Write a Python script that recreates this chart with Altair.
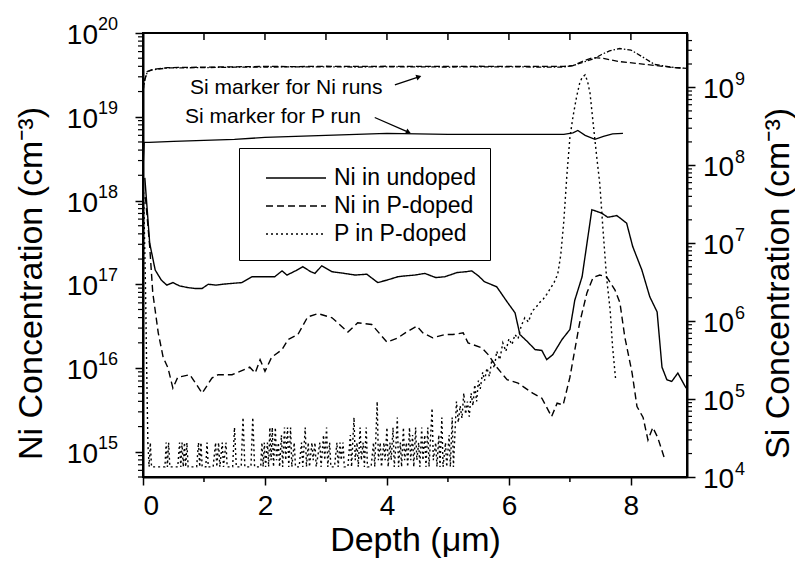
import altair as alt
import pandas as pd

FONT = "Liberation Sans"
W, H = 544, 444

# ---------------- data (depth in um, concentration as log10) -------------
series_names = ["Ni in undoped", "Ni in P-doped", "P in P-doped"]

ni_undoped_depth = [0.03, 0.11, 0.2, 0.3, 0.39, 0.49, 0.6, 0.74, 0.85, 0.97, 1.07, 1.2, 1.3, 1.45,
                    1.62, 1.79, 2.0, 2.16, 2.28, 2.36, 2.5, 2.62, 2.75, 2.82, 2.93, 3.1, 3.3, 3.48,
                    3.67, 3.85, 4.0, 4.18, 4.3, 4.46, 4.62, 4.8, 4.95, 5.15, 5.3, 5.39, 5.5, 5.6,
                    5.8, 5.98, 6.1, 6.18, 6.31, 6.43, 6.54, 6.62, 6.72, 6.87, 7.0, 7.08, 7.2, 7.28,
                    7.36, 7.52, 7.62, 7.77, 7.93, 8.03, 8.18, 8.31, 8.43, 8.51, 8.59, 8.67, 8.77,
                    8.89, 8.92]
ni_undoped_log = [18.27, 17.49, 17.17, 17.05, 16.99, 17.02, 16.98, 16.96, 16.95, 16.95, 17.0, 16.99,
                  17.0, 17.01, 17.02, 17.09, 17.09, 17.09, 17.16, 17.11, 17.16, 17.21, 17.15, 17.13,
                  17.22, 17.15, 17.13, 17.11, 17.12, 17.02, 17.05, 17.09, 17.1, 17.11, 17.13, 17.08,
                  17.09, 17.14, 17.15, 17.16, 17.1, 17.03, 16.97, 16.78, 16.66, 16.40, 16.31, 16.22,
                  16.21, 16.10, 16.16, 16.34, 16.46, 16.81, 17.09, 17.49, 17.89, 17.85, 17.80, 17.82,
                  17.73, 17.45, 17.17, 16.85, 16.67, 16.01, 15.86, 15.84, 15.94, 15.78, 15.75]

ni_pdoped_depth = [0.04, 0.11, 0.16, 0.25, 0.33, 0.41, 0.49, 0.57, 0.77, 0.97, 1.13, 1.23, 1.46, 1.75,
                   1.84, 1.92, 2.0, 2.11, 2.28, 2.38, 2.54, 2.70, 2.87, 3.1, 3.36, 3.52, 3.75, 4.0,
                   4.18, 4.3, 4.49, 4.59, 4.75, 4.95, 5.08, 5.25, 5.33, 5.56, 5.66, 5.8, 5.97, 6.15,
                   6.39, 6.54, 6.70, 6.79, 6.89, 7.0, 7.16, 7.28, 7.38, 7.49, 7.6, 7.74, 7.82, 7.9,
                   8.02, 8.1, 8.2, 8.28, 8.36, 8.44, 8.56]
ni_pdoped_log = [18.04, 17.45, 16.90, 16.42, 16.13, 16.0, 15.76, 15.89, 15.92, 15.70, 15.88, 15.92,
                 15.92, 16.01, 15.94, 16.10, 15.96, 16.13, 16.22, 16.34, 16.40, 16.61, 16.65, 16.60,
                 16.43, 16.54, 16.52, 16.31, 16.36, 16.42, 16.50, 16.42, 16.36, 16.40, 16.40, 16.42,
                 16.30, 16.24, 16.16, 16.01, 15.86, 15.82, 15.70, 15.64, 15.42, 15.58, 15.56, 15.89,
                 16.54, 16.90, 17.08, 17.11, 17.09, 16.93, 16.78, 16.37, 15.94, 15.54, 15.41, 15.14,
                 15.29, 15.17, 14.90]

p_pdoped_profile = [
    (0.01, 18.1), (0.04, 17.0), (0.06, 16.0), (0.08, 15.1), (0.10, 14.82), (0.12, 15.11),
    (0.14, 14.82), (0.18, 14.82), (0.25, 14.82), (0.32, 14.82), (0.36, 14.82), (0.38, 15.11),
    (0.40, 14.82), (0.42, 15.11), (0.44, 14.82), (0.50, 14.82), (0.57, 14.82), (0.60, 15.11),
    (0.62, 14.82), (0.64, 15.11), (0.66, 14.82), (0.68, 15.11), (0.70, 14.82), (0.72, 15.11),
    (0.74, 14.82), (0.80, 14.82), (0.88, 14.82), (0.91, 15.11), (0.93, 14.82), (0.95, 15.11),
    (0.97, 14.82), (1.03, 14.82), (1.05, 15.11), (1.07, 14.82), (1.15, 14.82), (1.19, 15.11),
    (1.21, 14.82), (1.24, 15.11), (1.26, 14.82), (1.30, 15.11), (1.32, 14.82), (1.36, 15.11),
    (1.38, 14.82), (1.47, 14.82), (1.50, 15.29), (1.53, 14.82), (1.61, 14.82), (1.64, 15.41),
    (1.67, 14.82), (1.77, 14.82), (1.80, 15.41), (1.83, 14.82), (1.93, 14.82), (1.95, 15.11),
    (1.97, 14.82), (1.99, 15.11), (2.01, 14.82), (2.04, 15.11), (2.06, 14.82), (2.08, 15.29),
    (2.10, 14.9), (2.12, 15.29), (2.14, 14.82), (2.17, 15.29), (2.19, 14.9), (2.22, 15.11),
    (2.24, 14.82), (2.27, 15.2), (2.29, 14.82), (2.32, 15.29), (2.34, 14.9), (2.37, 15.29),
    (2.39, 14.82), (2.42, 15.29), (2.44, 14.82), (2.48, 15.11), (2.50, 14.82), (2.56, 14.82),
    (2.60, 15.11), (2.62, 14.82), (2.66, 15.29), (2.68, 14.82), (2.71, 15.11), (2.73, 14.82),
    (2.77, 15.11), (2.79, 14.9), (2.82, 15.11), (2.84, 14.82), (2.90, 15.11), (2.92, 14.82),
    (2.96, 15.2), (2.98, 14.9), (3.01, 15.29), (3.03, 14.82), (3.06, 15.11), (3.08, 14.82),
    (3.14, 14.82), (3.18, 15.11), (3.20, 14.82), (3.23, 15.11), (3.25, 14.9), (3.28, 15.11),
    (3.30, 14.82), (3.36, 14.82), (3.40, 15.2), (3.42, 14.82), (3.46, 15.41), (3.48, 14.9),
    (3.51, 15.11), (3.53, 14.82), (3.56, 15.29), (3.58, 14.9), (3.61, 15.11), (3.63, 14.82),
    (3.66, 15.29), (3.68, 14.82), (3.74, 14.82), (3.78, 15.11), (3.80, 14.82), (3.84, 15.6),
    (3.86, 14.9), (3.89, 15.11), (3.91, 14.82), (3.95, 15.11), (3.97, 14.9), (4.00, 15.29),
    (4.02, 14.82), (4.05, 15.11), (4.07, 14.9), (4.10, 15.29), (4.12, 14.82), (4.15, 15.11),
    (4.17, 15.41), (4.19, 14.82), (4.22, 15.11), (4.24, 14.82), (4.27, 15.29), (4.29, 14.9),
    (4.32, 15.11), (4.34, 14.82), (4.37, 15.29), (4.39, 14.9), (4.42, 15.2), (4.44, 14.82),
    (4.47, 15.29), (4.49, 14.9), (4.52, 15.11), (4.54, 14.82), (4.57, 15.29), (4.59, 14.9),
    (4.62, 15.2), (4.64, 14.82), (4.67, 15.29), (4.69, 14.82), (4.74, 15.52), (4.76, 14.9),
    (4.80, 15.11), (4.82, 14.82), (4.85, 15.2), (4.87, 14.82), (4.90, 15.41), (4.92, 14.82),
    (4.96, 15.11), (4.98, 14.82), (5.02, 15.2), (5.04, 14.82), (5.07, 15.41), (5.09, 14.82),
    (5.12, 15.3), (5.14, 15.6), (5.17, 15.35), (5.20, 15.55), (5.23, 15.4), (5.26, 15.7),
    (5.29, 15.45), (5.32, 15.6), (5.35, 15.42), (5.38, 15.7), (5.41, 15.55), (5.44, 15.8),
    (5.47, 15.6), (5.50, 15.85), (5.53, 15.75), (5.57, 15.95), (5.60, 15.85), (5.64, 16.0),
    (5.68, 15.9), (5.72, 16.1), (5.76, 16.0), (5.80, 16.2), (5.85, 16.1), (5.90, 16.3),
    (5.95, 16.2), (6.00, 16.35), (6.05, 16.28), (6.10, 16.4), (6.15, 16.35), (6.20, 16.5),
    (6.26, 16.6), (6.32, 16.55), (6.38, 16.68), (6.44, 16.72), (6.50, 16.78), (6.56, 16.82),
    (6.62, 16.88), (6.68, 16.95), (6.74, 17.02), (6.80, 17.12), (6.85, 17.35), (6.90, 17.75),
    (6.95, 18.3), (7.00, 18.75), (7.05, 19.0), (7.11, 19.24), (7.16, 19.40), (7.20, 19.47),
    (7.25, 19.50), (7.29, 19.42), (7.33, 19.28), (7.38, 18.93), (7.44, 18.52), (7.49, 18.2),
    (7.54, 17.68), (7.60, 17.09), (7.66, 16.69), (7.70, 16.25), (7.75, 15.86),
]
p_pdoped_depth = [d for d, _ in p_pdoped_profile]
p_pdoped_log = [v for _, v in p_pdoped_profile]

# Si markers (right axis), log10
si_ni_undoped_depth = [0.0, 0.03, 0.07, 0.15, 0.4, 1.0, 1.5, 2.0, 2.5, 3.0, 3.5, 4.0, 4.5, 5.0,
                       5.5, 6.0, 6.5, 6.9, 7.05, 7.2, 7.38, 7.55, 7.8, 8.1, 8.4, 8.7, 8.92]
si_ni_undoped_log = [8.97, 9.10, 9.205, 9.23, 9.255, 9.26, 9.265, 9.27, 9.268, 9.272, 9.27, 9.272,
                     9.27, 9.27, 9.272, 9.27, 9.27, 9.27, 9.28, 9.333, 9.385, 9.372, 9.333, 9.308,
                     9.282, 9.256, 9.244]
si_ni_pdoped_depth = [0.0, 0.03, 0.07, 0.15, 0.4, 1.0, 1.5, 2.0, 2.5, 3.0, 3.5, 4.0, 4.5, 5.0,
                      5.5, 6.0, 6.5, 6.9, 7.05, 7.2, 7.4, 7.52, 7.65, 7.82, 8.0, 8.18, 8.39, 8.72, 8.92]
si_ni_pdoped_log = [8.95, 9.10, 9.2, 9.225, 9.25, 9.255, 9.26, 9.262, 9.265, 9.265, 9.262, 9.265,
                    9.265, 9.262, 9.265, 9.265, 9.262, 9.262, 9.28, 9.32, 9.37, 9.423, 9.47, 9.5,
                    9.48, 9.397, 9.295, 9.256, 9.244]
si_p_depth = [0.0, 0.02, 0.1, 0.5, 1.0, 1.5, 2.0, 2.5, 3.0, 3.5, 4.0, 4.5, 5.0, 5.5, 6.0, 6.5,
              6.9, 7.05, 7.13, 7.25, 7.41, 7.55, 7.7, 7.87]
si_p_log = [7.949, 8.295, 8.295, 8.308, 8.321, 8.333, 8.359, 8.372, 8.385, 8.397, 8.41, 8.404,
            8.397, 8.397, 8.397, 8.397, 8.397, 8.417, 8.449, 8.385, 8.333, 8.372, 8.404, 8.41]

x_tick_values = [0, 2, 4, 6, 8]
left_exponents = [15, 16, 17, 18, 19, 20]
right_exponents = [4, 5, 6, 7, 8, 9]

annotation_labels = ["Si marker for Ni runs", "Si marker for P run"]

# ---------------- tables ----------------
def frame(depth, logs, name):
    return pd.DataFrame({"x": depth, "y": [10.0 ** v for v in logs], "series": name})

ni_df = pd.concat([
    frame(ni_undoped_depth, ni_undoped_log, series_names[0]),
    frame(ni_pdoped_depth, ni_pdoped_log, series_names[1]),
    frame(p_pdoped_depth, p_pdoped_log, series_names[2]),
])

XMAX = 8.92
xscale = alt.Scale(domain=[0, XMAX], nice=False, zero=False)
yl_scale = alt.Scale(type="log", domain=[5e14, 1e20], nice=False)
yr_scale = alt.Scale(type="log", domain=[1e4, 5e9], nice=False)

x_axis = alt.Axis(orient="bottom", values=x_tick_values, format="d", labelFontSize=28,
                  labelColor="black", labelPadding=7, tickSize=8, tickWidth=1.5,
                  tickColor="black", domainColor="black", domainWidth=2, grid=False,
                  title="Depth (μm)", titleFontSize=34, titleFontWeight="normal",
                  titleColor="black", titleX=W / 2, titleY=73, titleAlign="center",
                  titleBaseline="alphabetic")
left_axis = alt.Axis(orient="left", values=[10.0 ** e for e in left_exponents], labels=False,
                     tickSize=8, tickWidth=1.5, tickColor="black", domainColor="black",
                     domainWidth=2, grid=False, title="Ni Concentration (cm⁻³)",
                     titleFontSize=34, titleFontWeight="normal", titleColor="black",
                     titleAngle=270, titleX=-102, titleY=250, titleAlign="center",
                     titleBaseline="alphabetic")
right_axis = alt.Axis(orient="right", values=[10.0 ** e for e in right_exponents], labels=False,
                      tickSize=8, tickWidth=1.5, tickColor="black", domainColor="black",
                      domainWidth=2, grid=False, title="Si Concentration (cm⁻³)",
                      titleFontSize=34, titleFontWeight="normal", titleColor="black",
                      titleAngle=270, titleX=101, titleY=250, titleAlign="center",
                      titleBaseline="alphabetic")

X = alt.X("x:Q", scale=xscale, axis=x_axis)
YL = alt.Y("y:Q", scale=yl_scale, axis=left_axis)
YR = alt.Y("y:Q", scale=yr_scale, axis=right_axis)

# legend: a flat line symbol, shifted right so the sample is long while rows stay compact
legend = alt.Legend(title=None, orient="none", legendX=96, legendY=115, direction="vertical",
                    strokeColor="black", fillColor="white", padding=14, labelFontSize=23,
                    labelColor="black", symbolType="M-0.2,0H3.8", symbolSize=900,
                    symbolStrokeWidth=1.5, symbolStrokeColor="black", symbolFillColor="transparent",
                    rowPadding=0, labelOffset=49, labelLimit=400)

ni_lines = alt.Chart(ni_df).mark_line(color="black", strokeWidth=1.4, clip=True).encode(
    x=X, y=YL,
    strokeDash=alt.StrokeDash("series:N",
                              scale=alt.Scale(domain=series_names,
                                              range=[[1, 0], [7, 4], [2, 3]]),
                              legend=legend),
)

left_lab_df = pd.DataFrame({"y": [10.0 ** e for e in left_exponents],
                            "e": [str(e) for e in left_exponents]})
left_ten = alt.Chart(left_lab_df).mark_text(align="right", baseline="middle", fontSize=28,
                                            dy=3, color="black").encode(
    y=YL, x=alt.value(-45), text=alt.value("10"))
left_exp = alt.Chart(left_lab_df).mark_text(align="left", baseline="middle", fontSize=18,
                                            dy=-8, color="black").encode(
    y=YL, x=alt.value(-45), text="e:N")

left_minor_df = pd.DataFrame({"y": [k * 10.0 ** n for n in range(14, 20) for k in range(2, 10)
                                    if 5e14 <= k * 10.0 ** n < 1e20]})
left_minor = alt.Chart(left_minor_df).mark_rule(color="black", strokeWidth=1.2).encode(
    y=YL, x=alt.value(-5), x2=alt.value(0))

top_df = pd.DataFrame({"x": [1, 2, 3, 4, 5, 6, 7, 8]})
top_ticks = alt.Chart(top_df).mark_rule(color="black", strokeWidth=1.5).encode(
    x=X, y=alt.value(0), y2=alt.value(7))
bottom_minor_df = pd.DataFrame({"x": [1, 3, 5, 7]})
bottom_minor = alt.Chart(bottom_minor_df).mark_rule(color="black", strokeWidth=1.5).encode(
    x=X, y=alt.value(H), y2=alt.value(H + 5))

ann_df = pd.DataFrame({"x": [0.77, 0.69], "y": [2.21e19, 1.0e19], "label": annotation_labels})
ann_text = alt.Chart(ann_df).mark_text(align="left", baseline="middle", fontSize=21,
                                       color="black").encode(x=X, y=YL, text="label:N")
arrow_df = pd.DataFrame({"x": [4.13, 3.80], "y": [2.4e19, 9.8e18],
                         "x2": [4.51, 4.34], "y2": [2.98e19, 6.6e18], "angle": [71, 114]})
arrow_shaft = alt.Chart(arrow_df).mark_rule(color="black", strokeWidth=1.3).encode(
    x=X, y=YL, x2="x2:Q", y2="y2:Q")
arrow_head = alt.Chart(arrow_df).mark_point(shape="triangle", filled=True, size=35,
                                            color="black", opacity=1).encode(
    x=alt.X("x2:Q", scale=xscale, axis=x_axis),
    y=alt.Y("y2:Q", scale=yl_scale, axis=left_axis),
    angle=alt.Angle("angle:Q", scale=None))

left_group = alt.layer(ni_lines, left_ten, left_exp, left_minor, top_ticks, bottom_minor,
                       ann_text, arrow_shaft, arrow_head)

# right group: Si markers
si_a = alt.Chart(frame(si_ni_undoped_depth, si_ni_undoped_log, "a")).mark_line(
    color="black", strokeWidth=1.3, strokeDash=[6, 3], clip=True).encode(x=X, y=YR)
si_b = alt.Chart(frame(si_ni_pdoped_depth, si_ni_pdoped_log, "b")).mark_line(
    color="black", strokeWidth=1.3, strokeDash=[5, 2, 1.5, 2], clip=True).encode(x=X, y=YR)
si_c = alt.Chart(frame(si_p_depth, si_p_log, "c")).mark_line(
    color="black", strokeWidth=1.3, clip=True).encode(x=X, y=YR)

right_lab_df = pd.DataFrame({"y": [10.0 ** e for e in right_exponents],
                             "e": [str(e) for e in right_exponents]})
right_ten = alt.Chart(right_lab_df).mark_text(align="left", baseline="middle", fontSize=28,
                                              dy=3, color="black").encode(
    y=YR, x=alt.value(W + 16), text=alt.value("10"))
right_exp = alt.Chart(right_lab_df).mark_text(align="left", baseline="middle", fontSize=18,
                                              dy=-7, color="black").encode(
    y=YR, x=alt.value(W + 48), text="e:N")
right_minor_df = pd.DataFrame({"y": [k * 10.0 ** n for n in range(4, 10) for k in range(2, 10)
                                     if k * 10.0 ** n < 5e9]})
right_minor = alt.Chart(right_minor_df).mark_rule(color="black", strokeWidth=1.2).encode(
    y=YR, x=alt.value(W), x2=alt.value(W + 5))

right_group = alt.layer(si_a, si_b, si_c, right_ten, right_exp, right_minor)

chart = alt.layer(left_group, right_group).resolve_scale(y="independent").properties(
    width=W, height=H,
    padding={"left": 135, "top": 25, "right": 108, "bottom": 82},
    autosize=alt.AutoSizeParams(type="none"),
    background="white",
).configure(font=FONT).configure_view(stroke="black", strokeWidth=2)

chart.save("out.html", embed_options={"renderer": "svg", "actions": False})
